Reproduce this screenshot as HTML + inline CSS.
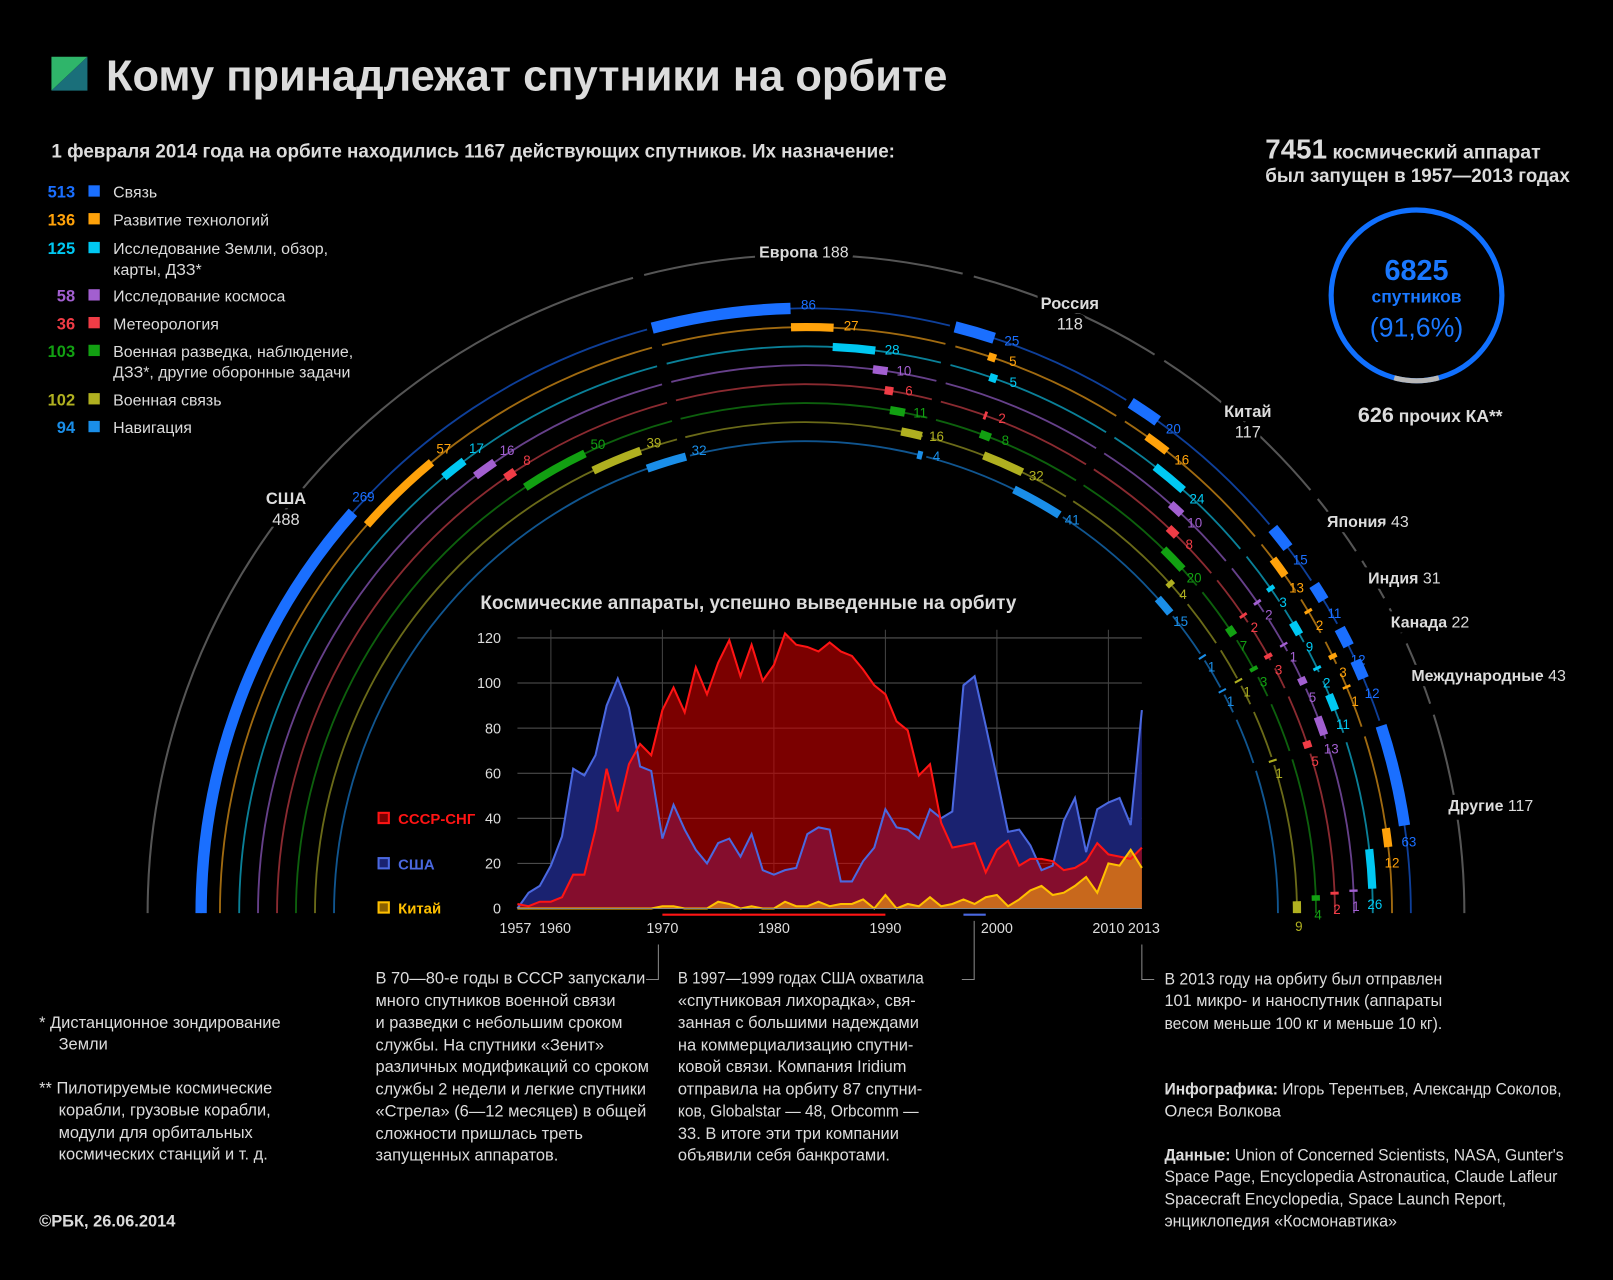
<!DOCTYPE html>
<html><head><meta charset="utf-8">
<style>
html,body{margin:0;padding:0;background:#000;}
svg{display:block;}
text{font-family:"Liberation Sans Narrow","Liberation Sans","DejaVu Sans",sans-serif;}
.t{fill:#dcdcdc;}
.b{font-weight:bold;}
</style></head>
<body>
<svg id="root" width="1613" height="1280" viewBox="0 0 1568 1244" xmlns="http://www.w3.org/2000/svg">
<rect x="0" y="0" width="1568" height="1244" fill="#000"/>
<g>
<polygon points="50,55 85,55 50,88" fill="#2fb56a"/>
<polygon points="85,55 85,88 50,88" fill="#1a6f7a"/>
</g>
<text x="103" y="88" font-size="42" class="t b" fill="#f0f0f0" textLength="818" lengthAdjust="spacingAndGlyphs" style="font-family:'Liberation Sans',sans-serif">Кому принадлежат спутники на орбите</text>
<text x="50" y="153" font-size="19" class="t b" textLength="820" lengthAdjust="spacingAndGlyphs" style="font-family:'Liberation Sans',sans-serif">1 февраля 2014 года на орбите находились 1167 действующих спутников. Их назначение:</text>

<g id="legend"></g>

<text x="1230" y="154" class="t b" font-size="19" style="font-family:'Liberation Sans',sans-serif"><tspan font-size="27">7451</tspan> космический аппарат</text>
<text x="1230" y="177" class="t b" font-size="19" textLength="296" lengthAdjust="spacingAndGlyphs" style="font-family:'Liberation Sans',sans-serif">был запущен в 1957—2013 годах</text>
<g>
<circle cx="1377" cy="287" r="83" fill="none" stroke="#1070ff" stroke-width="5"/>
<path id="grayArc" fill="none" stroke="#b8b8b8" stroke-width="5"/>
<text x="1377" y="272" text-anchor="middle" font-size="28" fill="#1a78ff" class="b">6825</text>
<text x="1377" y="294" text-anchor="middle" font-size="17" fill="#1a78ff" class="b">спутников</text>
<text x="1377" y="327" text-anchor="middle" font-size="26" fill="#1a78ff">(91,6%)</text>
</g>
<text x="1320" y="410" class="t b" font-size="17"><tspan font-size="21">626</tspan> прочих КА**</text>

<g id="arcs"></g>
<g id="chart"></g>

<g class="t" font-size="16">
<text x="38" y="999">*  Дистанционное зондирование</text>
<text x="57" y="1020">Земли</text>
<text x="38" y="1063">** Пилотируемые космические</text>
<text x="57" y="1084">корабли, грузовые корабли,</text>
<text x="57" y="1106">модули для орбитальных</text>
<text x="57" y="1127">космических станций и т. д.</text>
<text x="38" y="1192" class="b">©РБК, 26.06.2014</text>
</g>
<g class="t" font-size="16">
<text x="365" y="956">В 70—80-е годы в СССР запускали</text>
<text x="365" y="978">много спутников военной связи</text>
<text x="365" y="999">и разведки с небольшим сроком</text>
<text x="365" y="1021">службы. На спутники «Зенит»</text>
<text x="365" y="1042">различных модификаций со сроком</text>
<text x="365" y="1064" textLength="263" lengthAdjust="spacingAndGlyphs">службы 2 недели и легкие спутники</text>
<text x="365" y="1085">«Стрела» (6—12 месяцев) в общей</text>
<text x="365" y="1107">сложности пришлась треть</text>
<text x="365" y="1128">запущенных аппаратов.</text>
</g>
<g class="t" font-size="16">
<text x="659" y="956" textLength="239" lengthAdjust="spacingAndGlyphs">В 1997—1999 годах США охватила</text>
<text x="659" y="978">«спутниковая лихорадка», свя-</text>
<text x="659" y="999">занная с большими надеждами</text>
<text x="659" y="1021">на коммерциализацию спутни-</text>
<text x="659" y="1042">ковой связи. Компания Iridium</text>
<text x="659" y="1064">отправила на орбиту 87 спутни-</text>
<text x="659" y="1085" textLength="234" lengthAdjust="spacingAndGlyphs">ков, Globalstar — 48, Orbcomm —</text>
<text x="659" y="1107">33. В итоге эти три компании</text>
<text x="659" y="1128">объявили себя банкротами.</text>
</g>
<g class="t" font-size="16">
<text x="1132" y="957" textLength="270" lengthAdjust="spacingAndGlyphs">В 2013 году на орбиту был отправлен</text>
<text x="1132" y="978" textLength="270" lengthAdjust="spacingAndGlyphs">101  микро- и наноспутник (аппараты</text>
<text x="1132" y="1000" textLength="270" lengthAdjust="spacingAndGlyphs">весом меньше 100 кг и меньше 10 кг).</text>
</g>
<g class="t" font-size="16">
<text x="1132" y="1064" textLength="386" lengthAdjust="spacingAndGlyphs"><tspan class="b">Инфографика:</tspan> Игорь Терентьев, Александр Соколов,</text>
<text x="1132" y="1085">Олеся Волкова</text>
<text x="1132" y="1128" textLength="388" lengthAdjust="spacingAndGlyphs"><tspan class="b">Данные:</tspan> Union of Concerned Scientists, NASA, Gunter's</text>
<text x="1132" y="1149" textLength="382" lengthAdjust="spacingAndGlyphs">Space Page, Encyclopedia Astronautica, Claude Lafleur</text>
<text x="1132" y="1171" textLength="332" lengthAdjust="spacingAndGlyphs">Spacecraft Encyclopedia, Space Launch Report,</text>
<text x="1132" y="1192" textLength="226" lengthAdjust="spacingAndGlyphs">энциклопедия «Космонавтика»</text>
</g>
</svg>
<script>
const NS="http://www.w3.org/2000/svg";
// ---------- purposes ----------
const purposeNames=["Связь","Развитие технологий","Исследование Земли, обзор,|карты, ДЗЗ*","Исследование космоса","Метеорология","Военная разведка, наблюдение,|ДЗЗ*, другие оборонные задачи","Военная связь","Навигация"];
const purposeTotals=[513,136,125,58,36,103,102,94];
const purposeColors=["#1a6fff","#ffa20a","#00c8f2","#a25fd0","#f03c46","#12a012","#b0b020","#1a8ee8"];
const ringColors=["#0e3f99","#a06a10","#0a8098","#66408a","#8a2a30","#0d600d","#6a6a18","#10558f"];
// ---------- countries ----------
const countries=["США","Европа","Россия","Китай","Япония","Индия","Канада","Международные","Другие"];
const countryTotals=[488,188,118,117,43,31,22,43,117];
const cUSA=[269,57,17,16,8,50,39,32];
const cEU=[86,27,28,10,6,11,16,4];
const cRU=[25,5,5,0,2,8,32,41];
const cCN=[20,16,24,10,8,20,4,15];
const cJP=[15,13,3,2,2,7,0,1];
const cIN=[11,2,9,1,3,3,1,1];
const cCA=[12,3,2,5,0,0,0,0];
const cINT=[12,1,11,13,5,0,1,0];
const cOTH=[63,12,26,1,2,4,9,0];
const byCountry=[cUSA,cEU,cRU,cCN,cJP,cIN,cCA,cINT,cOTH];
// ---------- launches chart ----------
const years=[];for(let y=1957;y<=2013;y++)years.push(y);
const ussr=[2,1,3,3,5,15,15,35,62,43,64,73,68,88,98,87,107,95,109,119,103,117,101,108,122,117,116,114,118,114,112,106,99,95,83,79,59,64,38,27,28,29,16,26,30,19,22,22,21,17,18,21,29,24,23,22,27];
const usa=[0,7,10,19,32,62,59,68,90,102,89,63,61,31,46,35,26,20,29,31,23,33,17,15,17,18,33,36,35,12,12,21,27,44,36,35,31,44,40,43,99,103,81,58,34,35,28,17,19,39,49,25,44,47,49,37,88];
const china=[0,0,0,0,0,0,0,0,0,0,0,0,0,1,1,0,0,0,3,2,0,1,0,0,3,1,1,3,1,2,2,4,0,6,0,2,1,5,1,2,4,2,5,6,1,4,8,10,6,7,10,14,7,20,19,26,18];
const yTicks=[0,20,40,60,80,100,120];
const xTicks=[1957,1960,1970,1980,1990,2000,2010,2013];

function el(tag,attrs,parent,txt){const e=document.createElementNS(NS,tag);for(const k in attrs)e.setAttribute(k,attrs[k]);if(txt!=null)e.textContent=txt;(parent||document.getElementById('root')).appendChild(e);return e;}

// legend
const lg=document.getElementById('legend');
const lgY=[186,213,241,287,314,341,388,415];
purposeNames.forEach((n,i)=>{
  const t=el('text',{x:73,y:lgY[i]+6,'text-anchor':'end','font-size':16,fill:purposeColors[i],'font-weight':'bold'},lg,String(purposeTotals[i]));
  
  
  const r=el('rect',{x:86,y:lgY[i]-6,width:11,height:11,fill:purposeColors[i]},lg);
  
  
  n.split('|').forEach((ln,j)=>{const tt=el('text',{x:110,y:lgY[i]+6+j*20,'font-size':15.5,fill:'#dcdcdc'},lg,ln);
    
    });
});
// gray arc of ring (626 of 7451)
(function(){const f=626/7451, a=f*Math.PI, cx=1377, cy=287, r=83;
 const a0=Math.PI/2-a, a1=Math.PI/2+a;
 document.getElementById('grayArc').setAttribute('d',`M${cx+r*Math.cos(a0)} ${cy+r*Math.sin(a0)} A${r} ${r} 0 0 1 ${cx+r*Math.cos(a1)} ${cy+r*Math.sin(a1)}`);})();

// arcs
const ag=document.getElementById('arcs');
const CX=783.5, CY=887.5;
const radii=[588,569.7,551,532.7,514.2,495.8,477.3,458.8];
const TOTAL=countryTotals.reduce((a,b)=>a+b,0);
function pt(r,deg){const a=deg*Math.PI/180;return [CX-r*Math.cos(a),CY-r*Math.sin(a)];}
function arcPath(r,d0,d1){const p=pt(r,d0),q=pt(r,d1);return `M${p[0].toFixed(2)} ${p[1].toFixed(2)} A${r} ${r} 0 0 1 ${q[0].toFixed(2)} ${q[1].toFixed(2)}`;}
const ang=u=>u*180/TOTAL;
const bounds=[0];countryTotals.forEach(v=>bounds.push(bounds[bounds.length-1]+v));
for(let c=0;c<countries.length;c++){
  const d0=ang(bounds[c])+(c?0.5:0), d1=ang(bounds[c+1])-(c<countries.length-1?0.5:0);
  const g=el('path',{d:arcPath(640,d0,d1),fill:'none',stroke:'#555','stroke-width':2},ag);
  
  
  radii.forEach((r,i)=>{const p=el('path',{d:arcPath(r,d0,d1),fill:'none',stroke:ringColors[i],'stroke-width':1.8},ag);
    
    });
}
let pos=0;
byCountry.forEach((vals,c)=>{
  vals.forEach((v,i)=>{
    if(v<=0)return;
    const d0=ang(pos), d1=ang(pos+v); pos+=v;
    const w=(i===0)?11:8;
    const s=el('path',{d:arcPath(radii[i],d0,Math.max(d1,d0+0.25)),fill:'none',stroke:purposeColors[i],'stroke-width':w},ag);
    
    
    const lp=pt(radii[i]+2,d1+1.7);
    const t=el('text',{x:lp[0].toFixed(1),y:lp[1].toFixed(1),'text-anchor':'middle','dominant-baseline':'middle','font-size':13,fill:purposeColors[i]},ag,String(v));
    
    
  });
  pos=bounds[c+1];
});
const clPos=[[278,490,'m'],[765,250,'m'],[1040,300,'m'],[1213,405,'m'],[1290,512,'s'],[1330,567,'s'],[1352,610,'s'],[1372,662,'s'],[1408,788,'s']];
countries.forEach((n,c)=>{
  const [x,y,m]=clPos[c];
  if(m==='m'&&(c===0||c===2||c===3)){
    const t=el('text',{x,y,'text-anchor':'middle','font-size':16,'font-weight':'bold',fill:'#dcdcdc',stroke:'#000','stroke-width':8,'paint-order':'stroke'},ag,n);
    
    
    const t2=el('text',{x,y:y+20,'text-anchor':'middle','font-size':16,fill:'#dcdcdc',stroke:'#000','stroke-width':8,'paint-order':'stroke'},ag,String(countryTotals[c]));
    
    
  } else {
    const t=el('text',{x:m==='m'?x-27:x,y,'font-size':15.5,fill:'#dcdcdc',stroke:'#000','stroke-width':10,'paint-order':'stroke'},ag);
    
    
    el('tspan',{'font-weight':'bold'},t,n);
    el('tspan',{},t,'  '+countryTotals[c]);
  }
});

// chart
const cg=document.getElementById('chart');
const X0=503,X1=1110,Y0=883,Y120=620;
const xs=y=>X0+(y-1957)*(X1-X0)/(2013-1957);
const ys=v=>Y0-v*(Y0-Y120)/120;
el('rect',{x:X0,y:610,width:X1-X0,height:Y0-610,fill:'#000'},cg);
const ct=el('text',{x:467,y:592,'font-size':19,'font-weight':'bold',fill:'#dcdcdc',textLength:521,lengthAdjust:'spacingAndGlyphs'},cg,'Космические аппараты, успешно выведенные на орбиту');


yTicks.forEach(v=>{
  const l=el('line',{x1:X0,x2:X1,y1:ys(v),y2:ys(v),stroke:'#555','stroke-width':1},cg);
  
  
  const t=el('text',{x:487,y:ys(v)+5,'text-anchor':'end','font-size':14,fill:'#dcdcdc'},cg,String(v));
  
  
});
xTicks.forEach(y=>{
  if(y!==1957&&y!==2013){const l=el('line',{x1:xs(y),x2:xs(y),y1:612,y2:Y0,stroke:'#444','stroke-width':1},cg);
  
  }
  const t=el('text',{x:xs(y)+(y===1957?-2:y===1960?4:y===2013?2:0),y:907,'text-anchor':'middle','font-size':14,fill:'#dcdcdc'},cg,String(y));
  
  
});
function areaD(arr){let d=`M${xs(years[0])} ${Y0}`;arr.forEach((v,i)=>d+=` L${xs(years[i]).toFixed(2)} ${ys(v).toFixed(2)}`);return d+` L${xs(years[years.length-1])} ${Y0} Z`;}
function lineD(arr){return arr.map((v,i)=>(i?'L':'M')+xs(years[i]).toFixed(2)+' '+ys(v).toFixed(2)).join(' ');}
const a1=el('path',{d:areaD(usa),fill:'#1a2270'},cg);
const a2=el('path',{d:areaD(ussr),fill:'rgba(205,0,0,0.6)'},cg);
const a3=el('path',{d:areaD(china),fill:'#c8681c'},cg);
const l1=el('path',{d:lineD(usa),fill:'none',stroke:'#4a68e0','stroke-width':2},cg);
const l2=el('path',{d:lineD(ussr),fill:'none',stroke:'#ff1414','stroke-width':2},cg);
const l3=el('path',{d:lineD(china),fill:'none',stroke:'#ffc000','stroke-width':2},cg);
el('line',{x1:X0,x2:X1,y1:Y0,y2:Y0,stroke:'#888','stroke-width':1},cg);
const m1=el('line',{x1:xs(1970),x2:xs(1990),y1:889,y2:889,stroke:'#ff1414','stroke-width':2},cg);


const m2=el('line',{x1:xs(1997),x2:xs(1999),y1:889,y2:889,stroke:'#4a68e0','stroke-width':2},cg);


el('path',{d:`M640 918 V952 H628`,fill:'none',stroke:'#888','stroke-width':1},cg);
el('path',{d:`M947 895 V952 H935`,fill:'none',stroke:'#888','stroke-width':1},cg);
el('path',{d:`M1110 918 V952 H1122`,fill:'none',stroke:'#888','stroke-width':1},cg);
const cl=[["СССР-СНГ","#ff1414","#7a0000",795],["США","#4a68e0","#1a2270",839],["Китай","#ffc000","#8a6000",882]];
cl.forEach(([n,c,f,y])=>{
  const r=el('rect',{x:368,y:y-5,width:10,height:10,fill:f,stroke:c,'stroke-width':2},cg);
  
  
  const t=el('text',{x:387,y:y+6,'font-size':14.5,'font-weight':'bold',fill:c},cg,n);
  
  
});
</script>
</body></html>
